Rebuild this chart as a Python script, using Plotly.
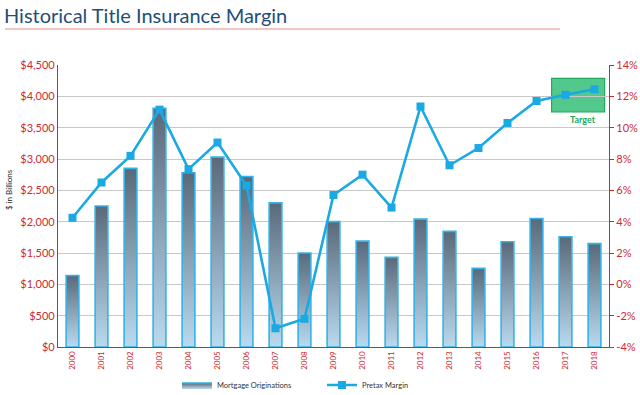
import plotly.graph_objects as go

years = [str(y) for y in range(2000, 2019)]
originations = [1140, 2250, 2850, 3810, 2780, 3030, 2720, 2300, 1500, 2000,
                1690, 1430, 2040, 1845, 1255, 1680, 2050, 1760, 1650]
pretax_margin = [4.25, 6.5, 8.2, 11.15, 7.35, 9.05, 6.3, -2.8, -2.2, 5.7,
                 7.0, 4.9, 11.35, 7.6, 8.7, 10.3, 11.7, 12.1, 12.45]
left_ticks = list(range(0, 4501, 500))
left_labels = [f"${v:,}" for v in left_ticks]
right_ticks = list(range(-4, 15, 2))
right_labels = [f"{v}%" for v in right_ticks]
target_years = ["2017", "2018"]
target_range = [11.0, 13.15]

RED = "#cc2a31"
BAR_W = 0.44
FONT = "Lato"

fig = go.Figure()

for i, (yr, v) in enumerate(zip(years, originations)):
    xs = [i - BAR_W / 2, i - BAR_W / 2, i + BAR_W / 2, i + BAR_W / 2, i - BAR_W / 2]
    ys = [0, v, v, 0, 0]
    fig.add_trace(go.Scatter(
        x=xs, y=ys, mode="lines", fill="toself",
        fillgradient=dict(type="vertical",
                          colorscale=[[0, "#b9daf0"], [1, "#59697a"]]),
        line=dict(color="#35b3e6", width=1.6),
        name="Mortgage Originations", legendgroup="mo",
        showlegend=(i == 0), hoverinfo="skip",
    ))

x_idx = list(range(len(years)))
fig.add_trace(go.Scatter(
    x=x_idx, y=pretax_margin, yaxis="y2", mode="lines+markers",
    name="Pretax Margin",
    line=dict(color="#1aa9e2", width=2.6),
    marker=dict(symbol="square", size=8, color="#1aa9e2"),
))

# target box
t0 = years.index(target_years[0])
t1 = years.index(target_years[1])
fig.add_shape(type="rect", xref="x", yref="y2",
              x0=t0 - 0.48, x1=t1 + 0.35, y0=target_range[0], y1=target_range[1],
              fillcolor="rgba(52,190,120,0.85)", line=dict(color="#22a85a", width=1.2),
              layer="below")
fig.add_annotation(x=(t0 + t1) / 2 + 0.1, y=target_range[0], xref="x", yref="y2",
                   text="<b>Target</b>", showarrow=False, yanchor="top", yshift=0,
                   font=dict(family=FONT, size=9, color="#22a85a"))

# title + underline
fig.add_annotation(xref="paper", yref="paper", x=(2 - 58) / 551, y=(347 - 15) / 282,
                   xanchor="left", yanchor="middle", showarrow=False,
                   text="Historical Title Insurance Margin",
                   font=dict(family=FONT, size=20, color="#1f4e79"))
fig.add_shape(type="line", xref="paper", yref="paper",
              x0=(5 - 58) / 551, x1=(560 - 58) / 551,
              y0=(347 - 29) / 282, y1=(347 - 29) / 282,
              line=dict(color="#e58a8a", width=1.2))

fig.add_annotation(xref="paper", yref="paper", x=(9 - 58) / 551, y=(347 - 190) / 282,
                   xanchor="center", yanchor="middle",
                   text="$ in Billions", textangle=-90, showarrow=False,
                   font=dict(family=FONT, size=8, color="#222222"))

fig.update_layout(
    width=640, height=395,
    margin=dict(l=58, r=31, t=65, b=48, autoexpand=False),
    paper_bgcolor="white", plot_bgcolor="rgba(0,0,0,0)",
    font=dict(family=FONT),
    xaxis=dict(range=[-0.5, len(years) - 0.5], tickmode="array",
               tickvals=x_idx, ticktext=years, tickangle=-90,
               tickfont=dict(family=FONT, size=8, color=RED),
               showgrid=False, zeroline=False, showline=True,
               linecolor=RED, linewidth=1.2, ticks="", automargin=False),
    yaxis=dict(range=[0, 4500], tickmode="array", tickvals=left_ticks,
               ticktext=left_labels, tickfont=dict(family=FONT, size=11, color=RED),
               showgrid=True, gridcolor="#c8c8c8", gridwidth=1.4,
               zeroline=False, showline=True, linecolor=RED, linewidth=1.2,
               automargin=False),
    yaxis2=dict(range=[-4, 14], tickmode="array", tickvals=right_ticks,
                ticktext=right_labels, overlaying="y", side="right",
                tickfont=dict(family=FONT, size=11, color=RED),
                showgrid=False, zeroline=False, showline=True,
                linecolor=RED, linewidth=1.2, ticks="outside", ticklen=4,
                tickcolor=RED, automargin=False),
    legend=dict(orientation="h", x=(177 - 58) / 551, xanchor="left",
                y=(347 - 385) / 282, yanchor="middle",
                font=dict(family=FONT, size=7.5, color="#333333"),
                bgcolor="rgba(0,0,0,0)", itemwidth=30, entrywidth=100),
    showlegend=True,
)

fig.write_html("out.html", config={"displayModeBar": False},
               post_script="document.body.style.margin='0';document.body.style.overflow='hidden';")
